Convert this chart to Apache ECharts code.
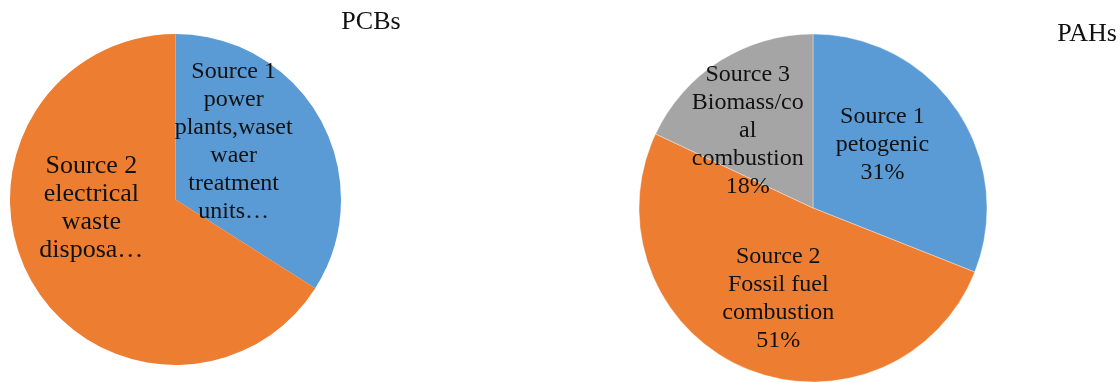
<!DOCTYPE html>
<html>
<head>
<meta charset="utf-8">
<script src="https://cdn.jsdelivr.net/npm/echarts@6/dist/echarts.min.js"></script>
<style>
  html, body { margin: 0; padding: 0; background: #fff; }
  #chart { width: 1120px; height: 383px; }
</style>
</head>
<body>
<div id="chart"></div>
<script>
// PCB source apportionment (share of total, %)
const pcbLabels = [
  'Source 1\npower\nplants,waset\nwaer\ntreatment\nunits…',
  'Source 2\nelectrical\nwaste\ndisposa…'
];
const pcbValues = [34, 66];

// PAH source apportionment (share of total, %)
const pahLabels = [
  'Source 1\npetogenic',
  'Source 2\nFossil fuel\ncombustion',
  'Source 3\nBiomass/co\nal\ncombustion'
];
const pahValues = [31, 51, 18];

const colors = ['#5B9BD5', '#ED7D31', '#A5A5A5'];
const font = '"Liberation Serif", "Times New Roman", serif';

// per-slice label nudges and sizes
const pcbOffsets = [[-17, -16], [-9, -33]];
const pcbFontSizes = [24, 26];
const pahOffsets = [[-5, -13], [1, 8], [-17, -1]];
const pahFontSizes = [24, 24, 24];

function items(labels, values, offsets, sizes, withPct) {
  return labels.map((name, i) => ({
    name: name,
    value: values[i],
    itemStyle: { color: colors[i] },
    label: {
      offset: offsets[i],
      fontSize: sizes[i],
      formatter: withPct ? '{b}\n{c}%' : '{b}'
    }
  }));
}

const sliceLabel = {
  show: true,
  position: 'inside',
  color: '#111',
  fontFamily: font,
  lineHeight: 28,
  align: 'center'
};

const titleStyle = { fontFamily: font, fontSize: 26, fontWeight: 'normal', color: '#111' };

const chart = echarts.init(document.getElementById('chart'), null, { renderer: 'canvas' });
chart.setOption({
  animation: false,
  backgroundColor: '#fff',
  title: [
    { text: 'PCBs', left: 366, top: 4, textAlign: 'center', textStyle: titleStyle },
    { text: 'PAHs', left: 1082, top: 16, textAlign: 'center', textStyle: titleStyle }
  ],
  series: [
    {
      type: 'pie',
      center: [175.5, 199.5],
      radius: 165.5,
      startAngle: 90,
      clockwise: true,
      label: sliceLabel,
      labelLine: { show: false },
      emphasis: { disabled: true },
      itemStyle: { borderWidth: 0 },
      data: items(pcbLabels, pcbValues, pcbOffsets, pcbFontSizes, false)
    },
    {
      type: 'pie',
      center: [813, 208],
      radius: 174,
      startAngle: 90,
      clockwise: true,
      label: sliceLabel,
      labelLine: { show: false },
      emphasis: { disabled: true },
      itemStyle: { borderColor: 'rgba(255,255,255,0.6)', borderWidth: 0.6 },
      data: items(pahLabels, pahValues, pahOffsets, pahFontSizes, true)
    }
  ]
});
</script>
</body>
</html>
